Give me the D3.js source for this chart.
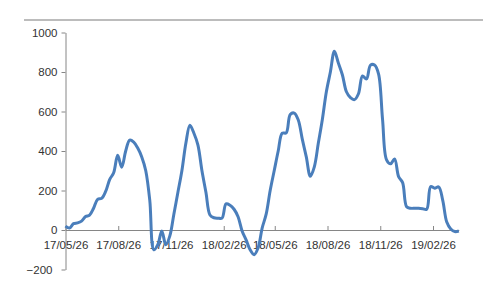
<!DOCTYPE html>
<html>
<head>
<meta charset="utf-8">
<script src="https://cdn.jsdelivr.net/npm/d3@7"></script>
<style>
    body { margin: 0; background: #fff; }
    #chart text { font-family: "Liberation Sans", Arial, sans-serif; font-size: 11.5px; fill: #333; }
</style>
</head>
<body>
<div id="chart"></div>
<script>

// weekly values, first week starting 17/05/26
const startDate = "17/05/26";
const weeklyValues = [
    20, 10, 32, 36, 45, 68, 75, 110, 155, 160,
    195, 255, 290, 378, 318, 400, 455, 445, 415, 370,
    300, 150, -100, -75, -5, -75, -30, 80, 190, 300,
    440, 530, 490, 430, 300, 190, 76, 62, 60, 60,
    132, 125, 105, 67, -5, -50, -100, -125, -90, 10,
    80, 200, 300, 400, 490, 492, 585, 592, 557, 460,
    370, 272, 320, 440, 560, 700, 800, 905, 845, 785,
    700, 670, 660, 690, 780, 765, 835, 835, 790, 560,
    355, 335, 360, 270, 240, 118, 110, 110, 110, 108,
    105, 220, 212, 218, 150, 40, 5, -8, -5
];

// axis labels
const xTickLabels = ["17/05/26", "17/08/26", "17/11/26", "18/02/26", "18/05/26", "18/08/26", "18/11/26", "19/02/26"];
const yTicks = [-200, 0, 200, 400, 600, 800, 1000];

const width = 503;
const height = 292;

const parse = d3.timeParse("%y/%m/%d");
const start = parse(startDate);

const data = weeklyValues.map(function(v, i) {
    return { date: d3.timeDay.offset(start, i * 7), value: v };
});

const svg = d3.select("#chart")
    .append("svg")
    .attr("width", width)
    .attr("height", height);

// scales
const x = d3.scaleTime()
    .domain([start, data[data.length - 1].date])
    .range([65.5, 458.8]);

const y = d3.scaleLinear()
    .domain([-200, 1000])
    .range([269.5, 32.5]);

// top border line of the chart area
svg.append("line")
    .attr("x1", 24).attr("x2", 483)
    .attr("y1", 20).attr("y2", 20)
    .attr("stroke", "#a6a6a6")
    .attr("stroke-width", 1.5);

// y axis
const yAxis = svg.append("g")
    .attr("transform", "translate(65.5,0)")
    .call(d3.axisLeft(y).tickValues(yTicks).tickSize(4).tickSizeOuter(0).tickPadding(4).tickFormat(d3.format("d")));

yAxis.select(".domain").attr("stroke", "#868686");
yAxis.selectAll(".tick line").attr("stroke", "#868686");
yAxis.selectAll(".tick text")
    .attr("x", function(d) { return d < 0 ? -13 : -8; });

// x axis at zero, ticks point up, labels below
const xAxis = svg.append("g")
    .attr("transform", "translate(0," + y(0) + ")")
    .call(d3.axisBottom(x).tickValues(xTickLabels.map(parse)).tickSize(-4).tickSizeOuter(0).tickPadding(11).tickFormat(d3.timeFormat("%y/%m/%d")));

xAxis.select(".domain").attr("stroke", "#868686");
xAxis.selectAll(".tick line").attr("stroke", "#868686");

// the series line
const line = d3.line()
    .x(function(d) { return x(d.date); })
    .y(function(d) { return y(d.value); })
    .curve(d3.curveCatmullRom.alpha(0.5));

svg.append("path")
    .datum(data)
    .attr("fill", "none")
    .attr("stroke", "#4a7ebb")
    .attr("stroke-width", 3)
    .attr("stroke-linejoin", "round")
    .attr("d", line);

</script>
</body>
</html>
